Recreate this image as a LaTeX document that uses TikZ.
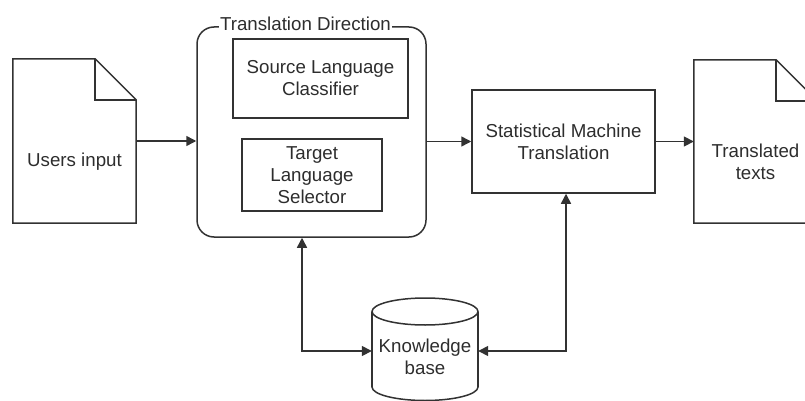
\documentclass[tikz,border=0pt]{standalone}
\usepackage{fontspec}
\setmainfont{Liberation Sans}
\usetikzlibrary{arrows.meta,calc}
\definecolor{ln}{RGB}{50,50,50}
\definecolor{tx}{RGB}{45,45,45}
\begin{document}
\begin{tikzpicture}[x=1pt,y=-1pt,
  every node/.style={text=tx, font=\fontsize{18.7}{22}\selectfont, align=center},
  frame/.style={draw=ln, line width=1.5pt, inner sep=0pt},
  holder/.style={rectangle, inner sep=0pt},
  lbl/.style={inner sep=0pt},
  arr/.style={draw=ln, line width=1.5pt, -{Triangle[length=10pt,width=10pt]}},
  darr/.style={draw=ln, line width=1.5pt, {Triangle[length=10pt,width=10pt]}-{Triangle[length=10pt,width=10pt]}}]
\useasboundingbox (0,0) rectangle (805,401);
\clip (0,0) rectangle (805,401);

% Users input document
\node[holder, minimum width=123pt, minimum height=164pt] (users) at (74.5,141) {};
\draw[frame] (users.north west) -- ([xshift=-41pt]users.north east) -- ([yshift=-41pt]users.north east) -- (users.south east) -- (users.south west) -- cycle;
\draw[frame] ([xshift=-41pt]users.north east) |- ([yshift=-41pt]users.north east);
\node[lbl] (userstxt) at (74.5,161.5) {Users input};

% Translation direction group
\node[frame, rounded corners=17pt, minimum width=229pt, minimum height=210pt] (td) at (311.5,132) {};
\node[fill=white, inner xsep=1.5pt, inner ysep=1pt] (tdlbl) at ([xshift=-6pt,yshift=2pt]td.north) {Translation Direction};
\node[frame, minimum width=175pt, minimum height=79pt] (src) at (320.5,78.5) {Source Language\\Classifier};
\node[frame, minimum width=140pt, minimum height=72pt] (tgt) at (312,175) {Target\\Language\\Selector};

% SMT
\node[frame, minimum width=183pt, minimum height=103pt] (smt) at (563.5,141.5) {Statistical Machine\\Translation};

% Translated texts document
\node[holder, minimum width=123pt, minimum height=163pt] (trans) at (755.5,141.5) {};
\draw[frame] (trans.north west) -- ([xshift=-41pt]trans.north east) -- ([yshift=-41pt]trans.north east) -- (trans.south east) -- (trans.south west) -- cycle;
\draw[frame] ([xshift=-41pt]trans.north east) |- ([yshift=-41pt]trans.north east);
\node[lbl] (transtxt) at (755.5,162) {Translated\\texts};

% Knowledge base cylinder
\node[holder, minimum width=106pt, minimum height=102.5pt] (kb) at (425,349.25) {};
\draw[frame, fill=white] (425,311.5) ellipse [x radius=53, y radius=13.5];
\draw[frame] (372,311.5) -- (372,387);
\draw[frame] (478,311.5) -- (478,387);
\begin{scope}
  \clip (360,387) rectangle (490,405);
  \draw[frame] (425,387) ellipse [x radius=53, y radius=13.5];
\end{scope}
\node[lbl] (kbtxt) at (425,357) {Knowledge\\base};

% Connectors
\draw[arr] (users.east) -- (users.east -| td.west);
\draw[arr] (td.east |- smt.west) -- (smt.west);
\draw[arr] (smt.east) -- (trans.west |- smt.east);
\draw[darr] ([xshift=-9.5pt]td.south) |- ([yshift=-1.75pt]kb.west);
\draw[darr] ([xshift=2.5pt]smt.south) |- ([yshift=-1.75pt]kb.east);
\end{tikzpicture}
\end{document}
